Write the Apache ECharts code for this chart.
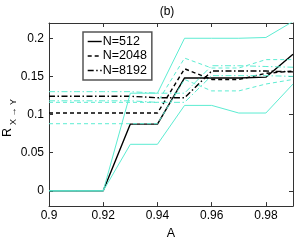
<!DOCTYPE html>
<html>
<head>
<meta charset="utf-8">
<script src="https://cdn.jsdelivr.net/npm/echarts@6/dist/echarts.min.js"></script>
<style>html,body{margin:0;padding:0;background:#fff;}#c{width:297px;height:245px;}</style>
</head>
<body>
<div id="c"></div>
<script>
const A = [0.90, 0.91, 0.92, 0.93, 0.94, 0.95, 0.96, 0.97, 0.98, 0.99];
const mean512  = [0, 0, 0, 0.0875, 0.0875, 0.148, 0.148, 0.148, 0.149, 0.179];
const up512    = [0, 0, 0, 0.128, 0.128, 0.200, 0.200, 0.200, 0.201, 0.222];
const lo512    = [0, 0, 0, 0.061, 0.061, 0.112, 0.112, 0.102, 0.102, 0.140];
const mean2048 = [0.102, 0.102, 0.102, 0.102, 0.102, 0.160, 0.146, 0.146, 0.154, 0.157];
const up2048   = [0.116, 0.116, 0.116, 0.116, 0.116, 0.174, 0.161, 0.161, 0.172, 0.172];
const lo2048   = [0.088, 0.088, 0.088, 0.088, 0.088, 0.146, 0.131, 0.131, 0.140, 0.146];
const mean8192 = [0.124, 0.124, 0.124, 0.124, 0.122, 0.122, 0.157, 0.157, 0.157, 0.156];
const up8192   = [0.130, 0.130, 0.130, 0.130, 0.128, 0.128, 0.164, 0.164, 0.163, 0.162];
const lo8192   = [0.118, 0.118, 0.118, 0.118, 0.116, 0.116, 0.151, 0.151, 0.151, 0.150];
const xTicks = [0.9, 0.92, 0.94, 0.96, 0.98];
const yTicks = [0, 0.05, 0.1, 0.15, 0.2];
const names = ['N=512', 'N=2048', 'N=8192'];

const FONT = 'Liberation Sans, Arial, Helvetica, sans-serif';
const CYAN = '#5cecd2';
const DASH = [4, 3];
const DASHDOT = [6, 2.5, 1.5, 2.5];
const pts = arr => A.map((x, i) => [x, arr[i]]);
const fmt = v => String(+(+v).toFixed(2));

function line(name, arr, color, width, type, z) {
  return {
    name: name, type: 'line', data: pts(arr), symbol: 'none', showSymbol: false,
    lineStyle: { color: color, width: width, type: type }, itemStyle: { color: color },
    z: z, silent: true, clip: true
  };
}

const axisLine = { show: true, onZero: false, lineStyle: { color: '#333', width: 1 } };
const chart = echarts.init(document.getElementById('c'), null, { renderer: 'canvas' });
chart.setOption({
  animation: false,
  backgroundColor: '#fff',
  grid: { left: 49, right: 4, top: 23, bottom: 29, containLabel: false },
  xAxis: [
    { type: 'value', min: 0.9, max: 0.99, position: 'bottom',
      axisLine: axisLine,
      axisTick: { show: true, inside: true, length: 4, customValues: xTicks, lineStyle: { color: '#333' } },
      axisLabel: { customValues: xTicks, formatter: fmt, margin: 4, color: '#000', fontSize: 12, fontFamily: FONT },
      splitLine: { show: false },
      name: 'A', nameLocation: 'middle', nameGap: 13,
      nameTextStyle: { color: '#000', fontSize: 12.5, fontFamily: FONT } },
    { type: 'value', min: 0.9, max: 0.99, position: 'top',
      axisLine: axisLine,
      axisTick: { show: true, inside: true, length: 4, customValues: xTicks, lineStyle: { color: '#333' } },
      axisLabel: { show: false, customValues: xTicks },
      splitLine: { show: false } }
  ],
  yAxis: [
    { type: 'value', min: -0.02, max: 0.22, position: 'left',
      axisLine: axisLine,
      axisTick: { show: true, inside: true, length: 4, customValues: yTicks, lineStyle: { color: '#333' } },
      axisLabel: { customValues: yTicks, formatter: fmt, margin: 5, color: '#000', fontSize: 12, fontFamily: FONT },
      splitLine: { show: false } },
    { type: 'value', min: -0.02, max: 0.22, position: 'right',
      axisLine: axisLine,
      axisTick: { show: true, inside: true, length: 4, customValues: yTicks, lineStyle: { color: '#333' } },
      axisLabel: { show: false, customValues: yTicks },
      splitLine: { show: false } }
  ],
  legend: {
    data: names, orient: 'vertical', left: 83, top: 32,
    itemWidth: 14, itemHeight: 12, itemGap: 1.5,
    padding: [3, 5, 3, 4],
    borderColor: '#555', borderWidth: 1.5, backgroundColor: '#fff',
    itemStyle: { color: 'transparent', borderWidth: 0, opacity: 0 },
    lineStyle: { width: 1.4 },
    textStyle: { color: '#000', fontSize: 12.5, fontFamily: FONT, padding: [0, 0, 0, -4] },
    selectedMode: false
  },
  graphic: [
    { type: 'text', x: 167, y: 12, style: { text: '(b)', fill: '#000', font: '12px ' + FONT, textAlign: 'center', textVerticalAlign: 'middle' } },
    { type: 'text', x: 8, y: 137, rotation: Math.PI / 2, style: { text: 'R', fill: '#000', font: '12.5px ' + FONT, textAlign: 'left', textVerticalAlign: 'middle' } },
    { type: 'text', x: 13.5, y: 125, rotation: Math.PI / 2, style: { text: 'X \u2192 Y', fill: '#000', font: '9px ' + FONT, textAlign: 'left', textVerticalAlign: 'middle' } }
  ],
  series: [
    line('N=512', mean512, '#000', 1.4, 'solid', 3),
    line('N=2048', mean2048, '#000', 1.4, DASH, 3),
    line('N=8192', mean8192, '#000', 1.4, DASHDOT, 3),
    line('up512', up512, CYAN, 1, 'solid', 4),
    line('lo512', lo512, CYAN, 1, 'solid', 4),
    line('up2048', up2048, CYAN, 1, DASH, 4),
    line('lo2048', lo2048, CYAN, 1, DASH, 4),
    line('up8192', up8192, CYAN, 1, DASHDOT, 4),
    line('lo8192', lo8192, CYAN, 1, DASHDOT, 4)
  ]
});
</script>
</body>
</html>
